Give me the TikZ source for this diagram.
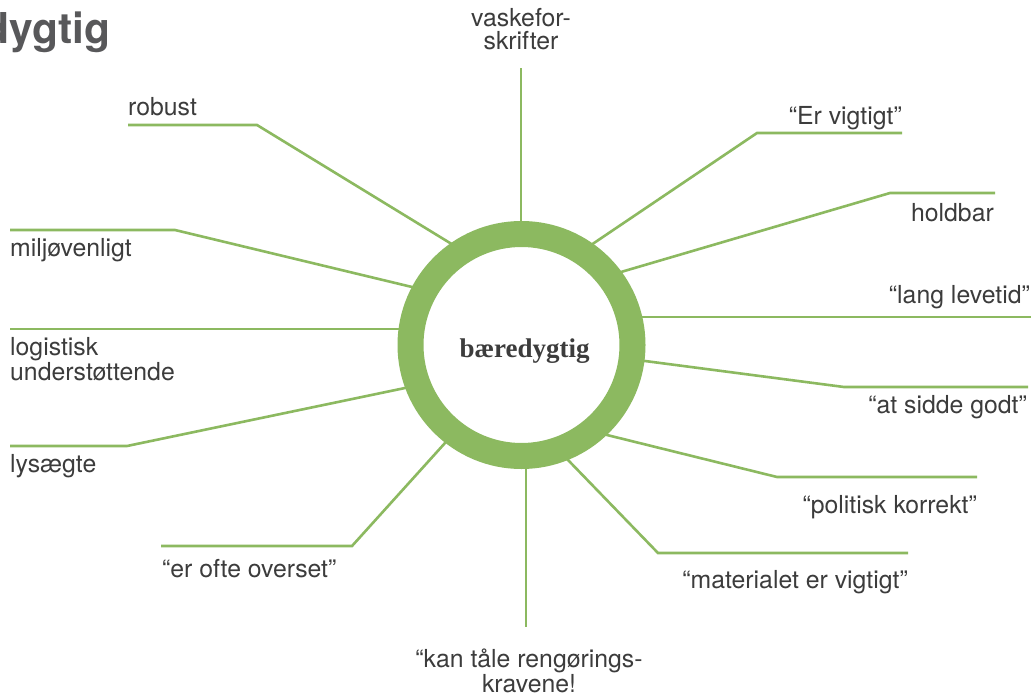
\documentclass[tikz,border=0pt]{standalone}
\usepackage{fontspec}
\setmainfont{TeX Gyre Heros}
\newfontfamily\hubserif{Liberation Serif}
\usetikzlibrary{calc}
\definecolor{ringgreen}{RGB}{140,185,96}
\definecolor{txtgray}{RGB}{60,60,60}
\definecolor{titlegray}{RGB}{88,88,90}
\begin{document}
\begin{tikzpicture}[x=1pt,y=-1pt,
  lbl/.style={inner sep=0pt, text=txtgray, font=\fontsize{24.8}{23}\selectfont},
  spoke/.style={draw=ringgreen, line width=2.6pt},
  hubstyle/.style={circle, draw=ringgreen, line width=26pt, fill=white,
    minimum size=222pt, inner sep=0pt}]
\path[use as bounding box, fill=white] (0,0) rectangle (1033,699);
\clip (0,0) rectangle (1033,699);

% title (cut off at the left edge)
\node[inner sep=0pt, anchor=base east, text=titlegray,
  font=\bfseries\fontsize{42.5}{44}\selectfont] (title) at (110.5,43) {dygtig};

% connector coordinates: A = ring edge, B = elbow, C = free end
\coordinate (vaskA) at (521,221);   \coordinate (vaskC) at (521,68);
\coordinate (erA) at (594,243);     \coordinate (erB) at (757,133);  \coordinate (erC) at (902,133);
\coordinate (holdA) at (621,272);   \coordinate (holdB) at (890,193); \coordinate (holdC) at (995,193);
\coordinate (langA) at (645,317);   \coordinate (langC) at (1031,317);
\coordinate (sidA) at (645,361);    \coordinate (sidB) at (844,387); \coordinate (sidC) at (1028,387);
\coordinate (polA) at (607,435);    \coordinate (polB) at (777,477); \coordinate (polC) at (977,477);
\coordinate (matA) at (568,460);    \coordinate (matB) at (658,553); \coordinate (matC) at (908,553);
\coordinate (kanA) at (526,468);    \coordinate (kanC) at (526,627);
\coordinate (ovA) at (445,443);     \coordinate (ovB) at (352,546);  \coordinate (ovC) at (161,546);
\coordinate (lysA) at (405,388);    \coordinate (lysB) at (127,446); \coordinate (lysC) at (10,446);
\coordinate (logA) at (399,329);    \coordinate (logC) at (10,329);
\coordinate (milA) at (412,287);    \coordinate (milB) at (175,230); \coordinate (milC) at (10,230);
\coordinate (robA) at (450,243);    \coordinate (robB) at (257,125); \coordinate (robC) at (128,125);

% spokes (inner ends run under the ring)
\draw[spoke] ($(vaskA)!-14pt!(vaskC)$) -- (vaskC);
\draw[spoke] ($(erA)!-14pt!(erB)$) -- (erB) -- (erC);
\draw[spoke] ($(holdA)!-14pt!(holdB)$) -- (holdB) -- (holdC);
\draw[spoke] ($(langA)!-14pt!(langC)$) -- (langC);
\draw[spoke] ($(sidA)!-14pt!(sidB)$) -- (sidB) -- (sidC);
\draw[spoke] ($(polA)!-14pt!(polB)$) -- (polB) -- (polC);
\draw[spoke] ($(matA)!-14pt!(matB)$) -- (matB) -- (matC);
\draw[spoke] ($(kanA)!-14pt!(kanC)$) -- (kanC);
\draw[spoke] ($(ovA)!-14pt!(ovB)$) -- (ovB) -- (ovC);
\draw[spoke] ($(lysA)!-14pt!(lysB)$) -- (lysB) -- (lysC);
\draw[spoke] ($(logA)!-14pt!(logC)$) -- (logC);
\draw[spoke] ($(milA)!-14pt!(milB)$) -- (milB) -- (milC);
\draw[spoke] ($(robA)!-14pt!(robB)$) -- (robB) -- (robC);

% hub ring
\node[hubstyle] (hub) at (521.5,345) {};
\node[inner sep=0pt, anchor=base, text=txtgray,
  font=\hubserif\bfseries\fontsize{27}{29}\selectfont] (hubtext) at (524.5,357) {bæredygtig};

% labels (for two-line labels the base anchor is the last line)
\node[lbl, anchor=base, align=center] (vask) at (521,49) {vaskefor-\\skrifter};
\node[lbl, anchor=base east] (er) at (902,124) {“Er vigtigt”};
\node[lbl, anchor=base east] (hold) at (994,221) {holdbar};
\node[lbl, anchor=base east] (lang) at (1030,303) {“lang levetid”};
\node[lbl, anchor=base east] (sid) at (1027,413) {“at sidde godt”};
\node[lbl, anchor=base east] (pol) at (977,513) {“politisk korrekt”};
\node[lbl, anchor=base east] (mat) at (908,588) {“materialet er vigtigt”};
\node[lbl, anchor=base, align=center] (kan) at (529,692) {“kan tåle rengørings-\\kravene!};
\node[lbl, anchor=base west] (ov) at (162,577) {“er ofte overset”};
\node[lbl, anchor=base west] (lys) at (10,472) {lysægte};
\node[lbl, anchor=base west, align=left] (log) at (10,380) {logistisk\\understøttende};
\node[lbl, anchor=base west] (mil) at (10,256) {miljøvenligt};
\node[lbl, anchor=base west] (rob) at (128,115) {robust};
\end{tikzpicture}
\end{document}
